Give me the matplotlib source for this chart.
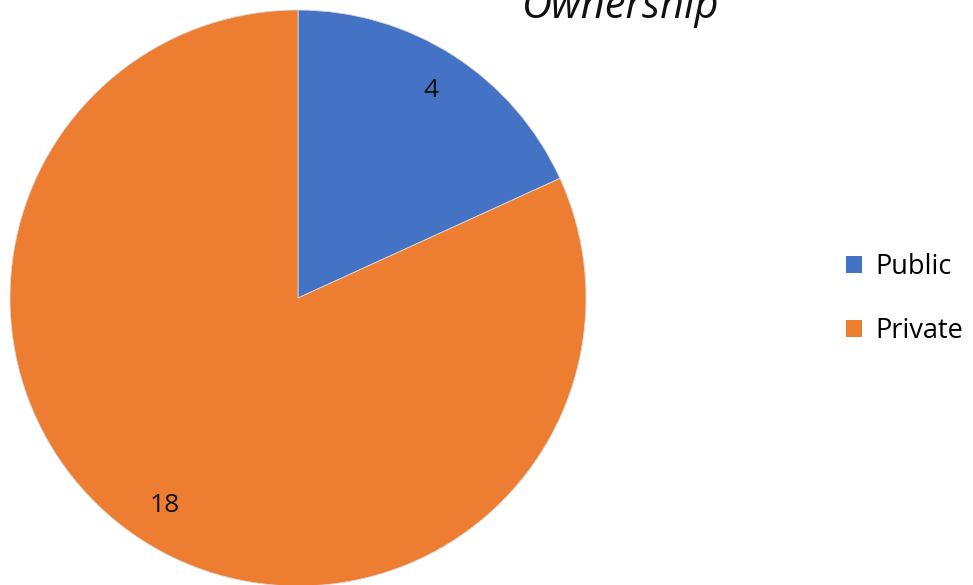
import matplotlib
matplotlib.use("Agg")
import matplotlib.pyplot as plt
from matplotlib.patches import Patch

plt.rcParams['font.family'] = ['Open Sans', 'DejaVu Sans']

categories = ["Public", "Private"]
counts = [4, 18]
colors = ["#4472C4", "#ED7D31"]

W, H = 973, 585
fig = plt.figure(figsize=(W / 100, H / 100), dpi=100)

# pie axes: square box centred at (298, 298) px with radius 288 px
cx, cy, r = 298, 298, 288
ax = fig.add_axes([(cx - r) / W, (H - cy - r) / H, 2 * r / W, 2 * r / H])
total = sum(counts)
wedges, texts, autotexts = ax.pie(
    counts, colors=colors, startangle=90, counterclock=False,
    radius=1.0, autopct=lambda p: f"{round(p * total / 100)}",
    pctdistance=0.855,
    wedgeprops=dict(linewidth=0.6, edgecolor="#d9d9d9"),
    textprops=dict(fontsize=19, color="#111111"),
)
ax.set_xlim(-1, 1)
ax.set_ylim(-1, 1)
ax.set_aspect('equal')
ax.axis('off')

fig.text(621 / W, 1 - 18 / H, "Ownership", ha='center', va='baseline',
         fontsize=30, style='italic', color='#111111')

handles = [Patch(facecolor=c, edgecolor='none') for c in colors]
fig.legend(handles, categories, loc='center left',
           bbox_to_anchor=(827 / W, 1 - 299 / H), frameon=False,
           fontsize=19.5, handlelength=0.6, handleheight=0.6,
           handletextpad=0.5, labelspacing=1.35, borderpad=0.2)

fig.savefig("out.png", dpi=100)
